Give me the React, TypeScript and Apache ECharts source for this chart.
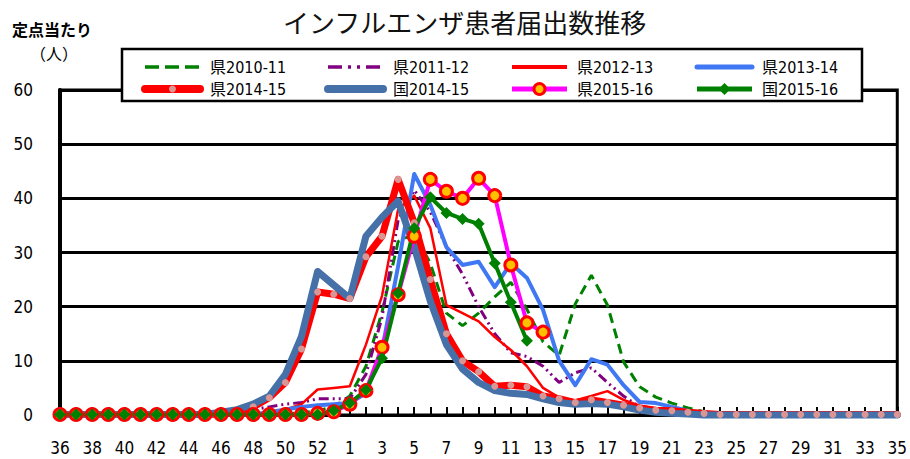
import React, { useEffect, useRef } from "react";
import * as echarts from "echarts";

const weeks = [
  "36", "37", "38", "39", "40", "41", "42", "43", "44", "45", "46", "47", "48", "49", "50", "51", "52", "53",
  "1", "2", "3", "4", "5", "6", "7", "8", "9", "10", "11", "12", "13", "14", "15", "16", "17", "18", "19", "20",
  "21", "22", "23", "24", "25", "26", "27", "28", "29", "30", "31", "32", "33", "34", "35",
];

const ken1011 = [
  0.1, 0.1, 0.1, 0.1, 0.1, 0.1, 0.1, 0.1, 0.1, 0.1, 0.1, 0.1, 0.1, 0.1,
  0.2, 0.4, 0.8, 1.5, 3.5, 9, 19, 32, 33.5, 28, 18.8, 16.5, 18.8, 21.8, 24.5, 19.5, 13.5, 11, 20.5, 25.8, 20.3, 9.8,
  5.2, 3.3, 2.2, 1.3, 0.6, 0.3,
  0.1, 0.1, 0.1, 0.1, 0.1, 0.1, 0.1, 0.1, 0.1, 0.1, 0.1,
];
const ken1112 = [
  0.2, 0.2, 0.2, 0.2, 0.2, 0.2, 0.2, 0.2, 0.2, 0.2, 0.2,
  0.5, 1.0, 1.5, 2.0, 2.3, 3.0, 3.0, 3.0, 7.5, 18, 36, 41.5, 37.5, 31, 26, 20, 15, 11.5, 10.8, 9, 6, 7.8, 8.7, 6,
  3.5, 1.5, 0.8, 0.5, 0.3,
  0.1, 0.1, 0.1, 0.1, 0.1, 0.1, 0.1, 0.1, 0.1, 0.1, 0.1, 0.1, 0.1,
];
const ken1213 = [
  0.1, 0.1, 0.1, 0.1, 0.1, 0.1, 0.1, 0.1, 0.1, 0.1, 0.1, 0.1, 0.1,
  0.5, 1.0, 2.0, 4.7, 5.0, 5.3, 13, 22, 38, 40.5, 34.5, 20.3, 18.8, 17.3, 14.4, 12, 9, 5, 3.2, 2.7, 3.5, 4.4, 2.8,
  1.7, 1.2, 0.8, 0.4, 0.2,
  0.1, 0.1, 0.1, 0.1, 0.1, 0.1, 0.1, 0.1, 0.1, 0.1, 0.1, 0.1,
];
const ken1314 = [
  0.1, 0.1, 0.1, 0.1, 0.1, 0.1, 0.1, 0.1, 0.1, 0.1, 0.1, 0.1, 0.1,
  0.5, 1.0, 1.5, 1.8, 2.0, 2.2, 4.0, 12, 27.5, 44.5, 38.8, 31, 27.7, 28.3, 23.6, 28, 25.3, 19.4, 10, 5.5, 10.3, 9.3,
  5.5, 2.4, 2.2, 1.5, 0.8, 0.4, 0.2,
  0.1, 0.1, 0.1, 0.1, 0.1, 0.1, 0.1, 0.1, 0.1, 0.1, 0.1,
];
const ken1415 = [
  0.1, 0.1, 0.1, 0.1, 0.1, 0.1, 0.1, 0.1, 0.1, 0.1,
  0.2, 0.5, 1.5, 3.2, 6, 12.2, 22.7, 22.3, 21.5, 29.2, 33, 43.5, 35.5, 25, 15, 10, 8, 5.3, 5.5, 5.2, 3.5, 3.0, 2.3,
  2.8, 2.3, 1.8, 1.3, 0.9, 0.8, 0.5, 0.3,
  0.1, 0.1, 0.1, 0.1, 0.1, 0.1, 0.1, 0.1, 0.1, 0.1, 0.1, 0.1,
];
const kuni1415 = [
  0.1, 0.1, 0.1, 0.1, 0.1, 0.1, 0.1, 0.1, 0.1, 0.1,
  0.5, 1.0, 2.0, 3.5, 7.5, 14.5, 26.5, 24, 21.5, 33, 36.5, 39.5, 31, 21, 13, 8.5, 6, 4.5, 4, 3.8, 3, 2.3, 2, 2.1, 2,
  1.5, 0.9, 0.5, 0.3, 0.2,
  0, 0, 0, 0, 0, 0, 0, 0, 0, 0, 0, 0, 0,
];
const ken1516 = [
  0.1, 0.1, 0.1, 0.1, 0.1, 0.1, 0.1, 0.1, 0.1, 0.1, 0.1, 0.1, 0.1, 0.1, 0.1, 0.1,
  0.3, 0.6, 2.0, 4.5, 12.5, 22.2, 33, 43.5, 41.3, 40, 43.7, 40.5, 27.7, 17, 15.3,
  null, null, null, null, null, null, null, null, null, null, null, null, null, null, null, null, null, null, null, null, null, null,
];
const kuni1516 = [
  0.1, 0.1, 0.1, 0.1, 0.1, 0.1, 0.1, 0.1, 0.1, 0.1, 0.1, 0.1, 0.1, 0.1, 0.1, 0.1, 0.1,
  0.8, 2.2, 4.6, 10.5, 22.5, 34.5, 40.2, 37.3, 36.2, 35.3, 28, 20.8, 13.7,
  null, null, null, null, null, null, null, null, null, null, null, null, null, null, null, null, null, null, null, null, null, null, null,
];

const seriesNames = ["県2010-11", "県2011-12", "県2012-13", "県2013-14", "県2014-15", "国2014-15", "県2015-16", "国2015-16"];
const yTicks = { min: 0, max: 60, interval: 10 };
const titleText = "インフルエンザ患者届出数推移";

const NUM_FONT = "'Liberation Sans Narrow', 'DejaVu Sans Condensed', 'Noto Sans CJK JP', sans-serif";
const CJK_FONT = "'Noto Sans CJK JP', sans-serif";

const styles = [
  { line: { stroke: "#008000", lineWidth: 3.5, lineDash: [14, 6] }, width: 3, type: [10, 6] as any, color: "#008000" },
  { line: { stroke: "#800080", lineWidth: 3.5, lineDash: [14, 6, 3, 6, 3, 6] }, width: 3, type: [10, 4, 2, 4, 2, 4] as any, color: "#800080" },
  { line: { stroke: "#FF0000", lineWidth: 4 }, width: 2.5, type: "solid", color: "#FF0000" },
  { line: { stroke: "#3F78F2", lineWidth: 5, lineCap: "round" }, width: 4, type: "solid", color: "#3F78F2" },
  { line: { stroke: "#FF0000", lineWidth: 8, lineCap: "round" }, width: 7, type: "solid", color: "#FF0000" },
  { line: { stroke: "#4670A8", lineWidth: 8, lineCap: "round" }, width: 7, type: "solid", color: "#4670A8" },
  { line: { stroke: "#FF00FF", lineWidth: 5 }, width: 4, type: "solid", color: "#FF00FF" },
  { line: { stroke: "#008000", lineWidth: 5 }, width: 4, type: "solid", color: "#008000" },
];

export default function App() {
  const ref = useRef<HTMLDivElement>(null);
  useEffect(() => {
    if (!ref.current) return;
    const chart = echarts.init(ref.current, null, { renderer: "svg" });
    const base = (i: number, data: (number | null)[], extra: any) => ({
      name: seriesNames[i],
      type: "line",
      data,
      clip: false,
      showAllSymbol: true,
      lineStyle: { color: styles[i].color, width: styles[i].width, type: styles[i].type, cap: "round", join: "round" },
      ...extra,
    });
    const series = [
      base(0, ken1011, { symbol: "none", lineStyle: { color: "#008000", width: 3, type: [10, 6] } }),
      base(1, ken1112, { symbol: "none", lineStyle: { color: "#800080", width: 3, type: [10, 4, 2, 4, 2, 4] } }),
      base(2, ken1213, { symbol: "none" }),
      base(3, ken1314, { symbol: "none" }),
      base(4, ken1415, {
        symbol: "circle",
        symbolSize: 7,
        itemStyle: { color: "#DA9694", borderWidth: 0 },
      }),
      base(5, kuni1415, { symbol: "none" }),
      base(6, ken1516, {
        symbol: "circle",
        symbolSize: 12,
        itemStyle: { color: "#FFC000", borderColor: "#FF0000", borderWidth: 3 },
      }),
      base(7, kuni1516, {
        symbol: "diamond",
        symbolSize: 12,
        itemStyle: { color: "#008000", borderWidth: 0 },
      }),
    ];

    const legendX = [145, 328, 512, 697];
    const legendY = [67, 89];
    const iconW = 55;
    const legendEls: any[] = [
      {
        type: "rect",
        z: 10,
        shape: { x: 122, y: 49, width: 740, height: 52 },
        style: { fill: "#fff", stroke: "#000", lineWidth: 2.5 },
      },
    ];
    seriesNames.forEach((n, i) => {
      const x = legendX[i % 4];
      const y = legendY[Math.floor(i / 4)];
      legendEls.push({
        type: "line",
        z: 11,
        shape: { x1: x, y1: y, x2: x + iconW, y2: y },
        style: { ...styles[i].line },
      });
      const cx = x + iconW / 2;
      if (i === 4) {
        legendEls.push({ type: "circle", z: 12, shape: { cx, cy: y, r: 3.5 }, style: { fill: "#DA9694" } });
      } else if (i === 6) {
        legendEls.push({
          type: "circle",
          z: 12,
          shape: { cx, cy: y, r: 5.5 },
          style: { fill: "#FFC000", stroke: "#FF0000", lineWidth: 3 },
        });
      } else if (i === 7) {
        legendEls.push({
          type: "polygon",
          z: 12,
          shape: { points: [[cx, y - 6], [cx + 6, y], [cx, y + 6], [cx - 6, y]] },
          style: { fill: "#008000" },
        });
      }
      legendEls.push({
        type: "text",
        z: 12,
        x: x + iconW + 10,
        y,
        style: { text: n, fontSize: 16, fontFamily: NUM_FONT, fill: "#000", verticalAlign: "middle", align: "left" },
      });
    });

    chart.setOption({
      animation: false,
      title: {
        text: titleText,
        left: 278,
        top: 3,
        textStyle: { fontSize: 26, fontWeight: "normal", fontFamily: CJK_FONT, color: "#111" },
      },
      grid: {
        left: 60,
        right: 11,
        top: 90,
        bottom: 44,
        show: true,
        borderColor: "#000",
        borderWidth: 3,
        backgroundColor: "#fff",
      },
      xAxis: {
        type: "category",
        data: weeks,
        boundaryGap: false,
        axisLine: { lineStyle: { color: "#000", width: 3 } },
        axisTick: { show: true, inside: true, length: 8, interval: 0, lineStyle: { color: "#000", width: 2 } },
        axisLabel: { interval: 1, margin: 24, fontSize: 17, color: "#000", fontFamily: NUM_FONT },
        splitLine: { show: false },
      },
      yAxis: {
        type: "value",
        min: yTicks.min,
        max: yTicks.max,
        interval: yTicks.interval,
        axisLine: { show: true, lineStyle: { color: "#000", width: 4 } },
        axisTick: { show: false },
        axisLabel: { margin: 27, fontSize: 17, color: "#000", fontFamily: NUM_FONT },
        splitLine: { lineStyle: { color: "#000", width: 3 } },
      },
      graphic: {
        elements: [
          ...legendEls,
          {
            type: "text",
            z: 10,
            left: 12,
            top: 21,
            style: { text: "定点当たり", fontSize: 16, fontWeight: "bold", fontFamily: CJK_FONT, fill: "#000" },
          },
          {
            type: "text",
            z: 10,
            left: 30,
            top: 45,
            style: { text: "（人）", fontSize: 16, fontFamily: CJK_FONT, fill: "#000" },
          },
        ],
      },
      series,
    });
    return () => chart.dispose();
  }, []);
  return (
    <div
      ref={ref}
      style={{ position: "fixed", left: 0, top: 0, width: 910, height: 459, background: "#fff" }}
    />
  );
}
